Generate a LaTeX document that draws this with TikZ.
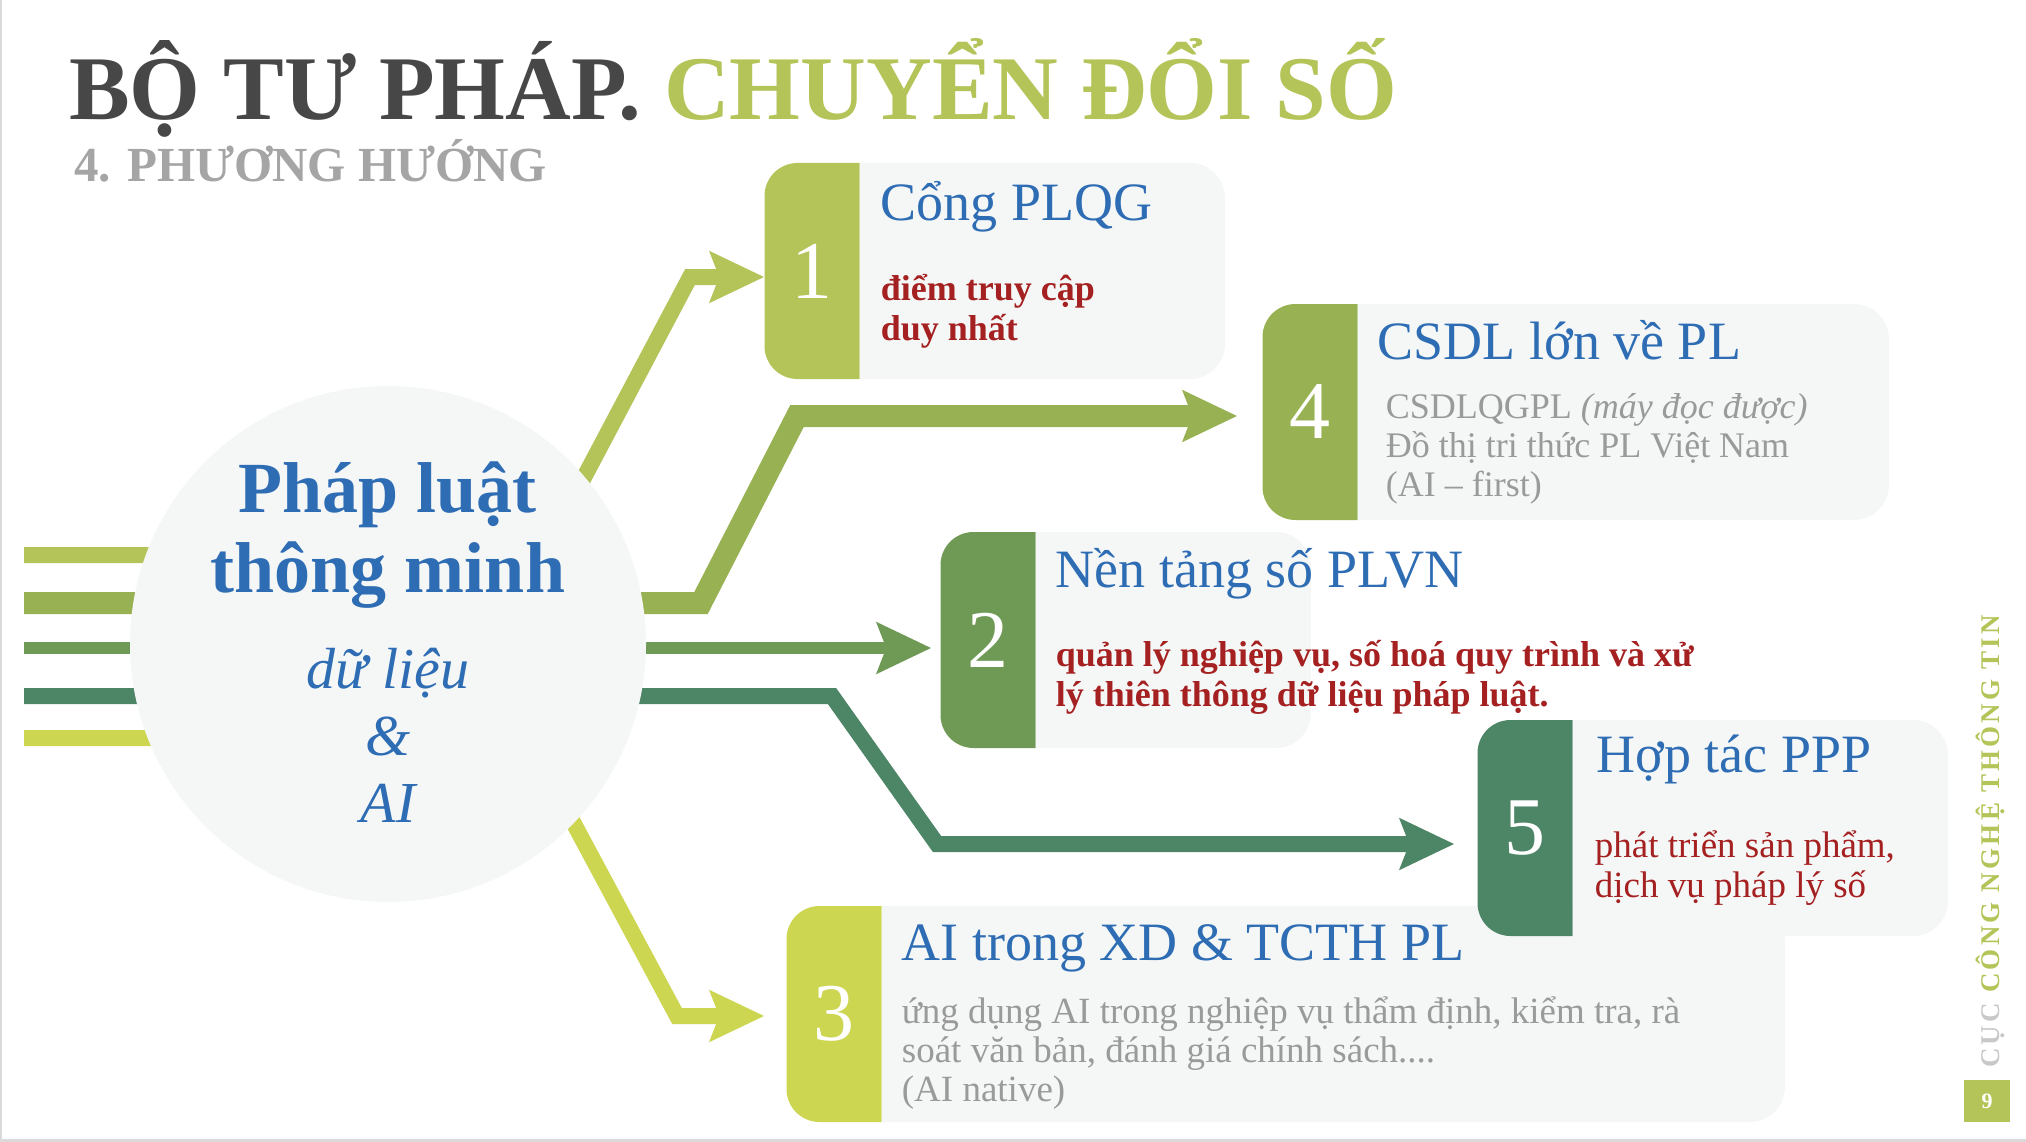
\documentclass[tikz,border=0pt]{standalone}
\usepackage{fontspec}
\setmainfont{Liberation Serif}
\newfontfamily\sidefont[LetterSpace=12]{Liberation Serif}
\usetikzlibrary{positioning,arrows.meta}

\definecolor{tone1}{HTML}{B5C458}
\definecolor{tone2}{HTML}{6F9A55}
\definecolor{tone3}{HTML}{CDD650}
\definecolor{tone4}{HTML}{98B153}
\definecolor{tone5}{HTML}{4D8567}
\definecolor{panelgray}{HTML}{F5F7F7}
\definecolor{headblue}{HTML}{2E6DB4}
\definecolor{notered}{HTML}{A52020}
\definecolor{notegray}{HTML}{9A9A9A}
\definecolor{titlegray}{HTML}{474747}
\definecolor{subgray}{HTML}{A5A5A5}
\definecolor{cucgray}{HTML}{C8C8C8}
\definecolor{bordergray}{HTML}{DADADA}

\begin{document}
\begin{tikzpicture}[x=1pt, y=-1pt, line join=miter,
    flow/.style={line width=#1, -{Stealth[length=54pt, width=50pt, inset=9pt]}},
    core/.style={circle, fill=panelgray, minimum size=516pt, inner sep=0pt},
    tabbox/.style={rectangle, minimum width=95pt, minimum height=216pt, inner sep=0pt,
      text=white, font=\fontsize{82}{82}\selectfont,
      path picture={\fill[#1, rounded corners=33pt] (path picture bounding box.north west)
        rectangle ([xshift=45pt]path picture bounding box.south east);}},
    panelbox/.style={rectangle, minimum height=216pt, inner sep=0pt,
      path picture={\fill[panelgray, rounded corners=35pt] ([xshift=-45pt]path picture bounding box.north west)
        rectangle (path picture bounding box.south east);}},
    headtext/.style={anchor=base west, inner sep=0pt, text=headblue, font=\fontsize{54}{54}\selectfont},
    rednote/.style={anchor=base west, inner sep=0pt, align=left, text=notered, font=\bfseries\fontsize{36}{40}\selectfont},
    graynote/.style={anchor=base west, inner sep=0pt, align=left, text=notegray, font=\fontsize{36}{39}\selectfont}
  ]
    \useasboundingbox (0,0) rectangle (2026,1142);
    \fill[white] (0,0) rectangle (2026,1142);
    \fill[bordergray] (0,0) rectangle (2,1142);
    \fill[bordergray] (0,1139) rectangle (2026,1142);

    % heading
    \node[anchor=base west, inner sep=0pt, font=\bfseries\fontsize{91}{92}\selectfont] (title) at (69,120)
      {\textcolor{titlegray}{BỘ TƯ PHÁP.} \textcolor{tone1}{CHUYỂN ĐỔI SỐ}};
    \node[anchor=base west, inner sep=0pt, text=subgray, font=\bfseries\fontsize{49}{49}\selectfont] (subtitle) at (74,182)
      {4. PHƯƠNG HƯỚNG};

    % boxes (multi-line notes sit on their last baseline)
    \node[tabbox=tone1] (tab1) at (812,271) {1};
    \node[panelbox, minimum width=365pt, right=0pt of tab1] (pan1) {};
    \node[headtext] (head1) at ([shift={(21,58)}]tab1.north east) {Cổng PLQG};
    \node[rednote] (note1) at ([shift={(21,178)}]tab1.north east) {điểm truy cập\\duy nhất};

    \node[tabbox=tone4] (tab4) at (1310,412) {4};
    \node[panelbox, minimum width=531pt, right=0pt of tab4] (pan4) {};
    \node[headtext] (head4) at ([shift={(20,56)}]tab4.north east) {CSDL lớn về PL};
    \node[graynote] (note4) at ([shift={(28,193)}]tab4.north east)
      {CSDLQGPL \textit{(máy đọc được)}\\Đồ thị tri thức PL Việt Nam\\(AI – first)};

    \node[tabbox=tone2] (tab2) at (988,640) {2};
    \node[panelbox, minimum width=275pt, right=0pt of tab2] (pan2) {};
    \node[headtext] (head2) at ([shift={(20,56)}]tab2.north east) {Nền tảng số PLVN};
    \node[rednote] (note2) at ([shift={(20,175)}]tab2.north east)
      {quản lý nghiệp vụ, số hoá quy trình và xử\\lý thiên thông dữ liệu pháp luật.};

    \node[tabbox=tone3] (tab3) at (834,1014) {3};
    \node[panelbox, minimum width=903pt, right=0pt of tab3] (pan3) {};
    \node[headtext] (head3) at ([shift={(20,55)}]tab3.north east) {AI trong XD \& TCTH PL};
    \node[graynote, font=\fontsize{37}{39}\selectfont] (note3) at ([shift={(20,196)}]tab3.north east)
      {ứng dụng AI trong nghiệp vụ thẩm định, kiểm tra, rà\\soát văn bản, đánh giá chính sách....\\(AI native)};

    \node[tabbox=tone5] (tab5) at (1525,828) {5};
    \node[panelbox, minimum width=375pt, right=0pt of tab5] (pan5) {};
    \node[headtext] (head5) at ([shift={(24,53)}]tab5.north east) {Hợp tác PPP};
    \node[rednote, font=\fontsize{37}{40}\selectfont] (note5) at ([shift={(22,178)}]tab5.north east)
      {phát triển sản phẩm,\\dịch vụ pháp lý số};

    % branches
    \coordinate (in1) at (24,555);
    \coordinate (in4) at (24,603);
    \coordinate (in2) at (24,648);
    \coordinate (in5) at (24,696);
    \coordinate (in3) at (24,738);
    \coordinate (bend1) at (690,277);
    \coordinate (bend4) at (797,416);
    \coordinate (bend5) at (937,844);
    \coordinate (bend3) at (677,1016);
    \draw[flow=16pt, tone1] (in1) -- (543,555) -- (bend1) -- (tab1.west |- bend1);
    \draw[flow=22pt, tone4, shorten >=25pt] (in4) -- (701,603) -- (bend4) -- (tab4.west |- bend4);
    \draw[flow=12pt, tone2, shorten >=9pt] (in2) -- (tab2.west |- in2);
    \draw[flow=16pt, tone5, shorten >=23pt] (in5) -- (832,696) -- (bend5) -- (tab5.west |- bend5);
    \draw[flow=16pt, tone3, shorten >=22pt] (in3) -- (528,738) -- (bend3) -- (tab3.west |- bend3);

    % centre
    \node[core] (core) at (388,644) {};
    \node[anchor=base, inner sep=0pt, align=center, text=headblue, font=\bfseries\fontsize{72}{80}\selectfont]
      (corehead) at (388,592) {Pháp luật\\thông minh};
    \node[anchor=base, inner sep=0pt, align=center, text=headblue, font=\itshape\fontsize{58}{67}\selectfont]
      (coretext) at (388,822) {dữ liệu\\\&\\AI};

    % side
    \node[rotate=90, anchor=base west, inner sep=0pt, font=\sidefont\bfseries\fontsize{27}{27}\selectfont]
      (dept) at (1999,1068) {\textcolor{cucgray}{CỤC} \textcolor{tone1}{CÔNG NGHỆ THÔNG TIN}};
    \node[fill=tone1, minimum width=46pt, minimum height=42pt, inner sep=0pt, text=white,
      font=\bfseries\fontsize{22}{22}\selectfont] (page) at (1987,1101) {9};
  \end{tikzpicture}
\end{document}
